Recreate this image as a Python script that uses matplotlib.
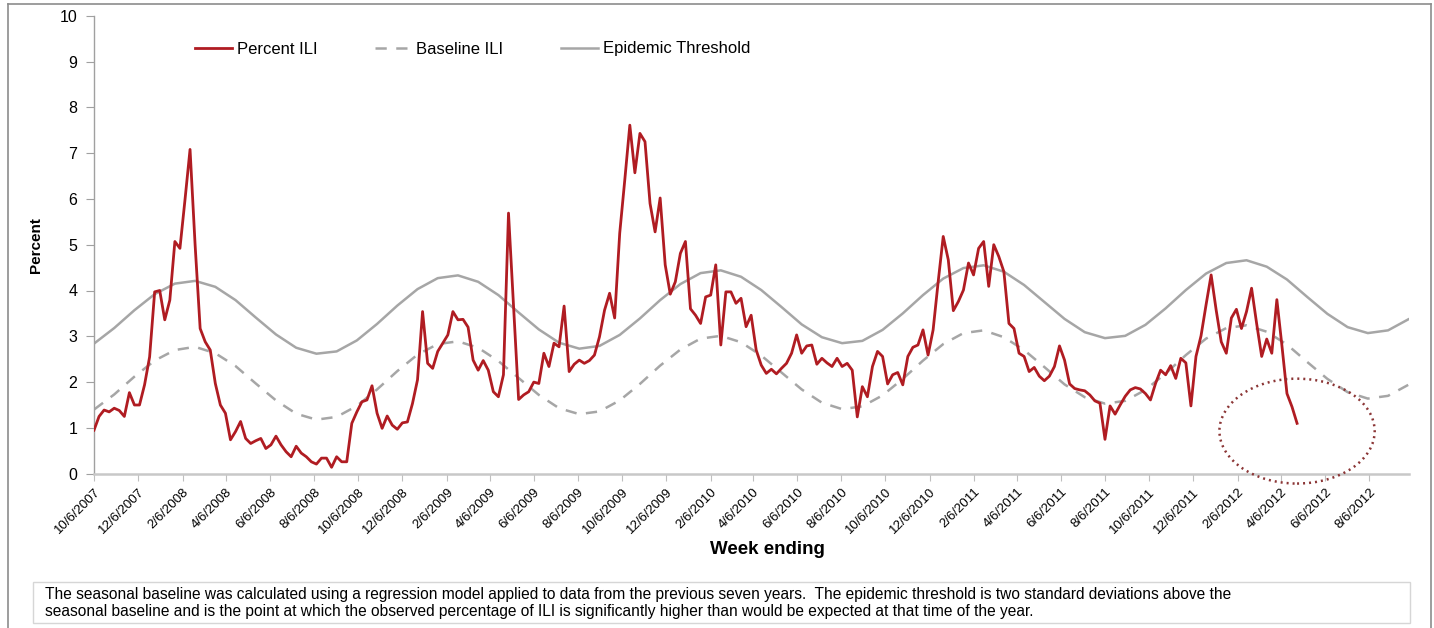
import datetime as dt
import matplotlib
matplotlib.use("Agg")
import matplotlib.pyplot as plt
import matplotlib.dates as mdates
from matplotlib.patches import Ellipse, Rectangle
from matplotlib.lines import Line2D

plt.rcParams['font.family'] = ['Liberation Sans', 'DejaVu Sans']

# ---------------- data ----------------
first_week = dt.date(2007, 10, 6)   # week ending (Saturday)

pct_ili_0708 = [0.95, 1.25, 1.39, 1.35, 1.43, 1.38, 1.25, 1.77, 1.50, 1.50, 1.94, 2.55, 3.97,
                4.00, 3.36, 3.79, 5.07, 4.92, 5.98, 7.08, 5.00, 3.17, 2.88, 2.70, 1.97, 1.50,
                1.32, 0.74, 0.92, 1.14, 0.77, 0.66, 0.72, 0.77, 0.55, 0.63, 0.82, 0.63, 0.48,
                0.37, 0.60, 0.45, 0.37, 0.26, 0.21, 0.34, 0.34, 0.14, 0.37, 0.26, 0.26, 1.10]
pct_ili_0809 = [1.35, 1.57, 1.61, 1.92, 1.32, 0.99, 1.26, 1.06, 0.97, 1.11, 1.13, 1.53, 2.05,
                3.54, 2.41, 2.30, 2.67, 2.85, 3.03, 3.54, 3.36, 3.37, 3.20, 2.48, 2.26, 2.47,
                2.26, 1.79, 1.68, 2.16, 5.69, 3.65, 1.62, 1.72, 1.79, 2.00, 1.97, 2.63, 2.34,
                2.85, 2.77, 3.66, 2.23, 2.39, 2.48, 2.41, 2.47, 2.59, 2.99, 3.57, 3.94, 3.40]
pct_ili_0910 = [5.25, 6.41, 7.61, 6.57, 7.43, 7.25, 5.90, 5.28, 6.02, 4.56, 3.92, 4.19, 4.81,
                5.07, 3.60, 3.46, 3.28, 3.86, 3.90, 4.56, 2.81, 3.97, 3.97, 3.72, 3.83, 3.21,
                3.46, 2.70, 2.37, 2.19, 2.28, 2.18, 2.30, 2.41, 2.63, 3.03, 2.63, 2.79, 2.81,
                2.39, 2.52, 2.42, 2.34, 2.52, 2.34, 2.41, 2.26, 1.24, 1.90, 1.68, 2.34, 2.67]
pct_ili_1011 = [2.56, 1.96, 2.16, 2.21, 1.94, 2.56, 2.76, 2.81, 3.14, 2.59, 3.14, 4.19, 5.18,
                4.67, 3.56, 3.76, 4.01, 4.60, 4.34, 4.92, 5.07, 4.09, 5.00, 4.74, 4.41, 3.28,
                3.17, 2.63, 2.56, 2.23, 2.32, 2.13, 2.03, 2.13, 2.34, 2.79, 2.48, 1.96, 1.86,
                1.83, 1.81, 1.72, 1.59, 1.54, 0.75, 1.48, 1.30, 1.50, 1.69, 1.83, 1.88, 1.85]
pct_ili_1112 = [1.75, 1.61, 1.97, 2.26, 2.16, 2.36, 2.08, 2.52, 2.42, 1.48, 2.56, 3.01, 3.69,
                4.34, 3.57, 2.88, 2.63, 3.40, 3.59, 3.17, 3.54, 4.05, 3.28, 2.56, 2.94, 2.63,
                3.80, 2.80, 1.75, 1.46, 1.10]

# seasonal curves read every 4 weeks from 10/6/2007 to 9/29/2012
baseline_ili = [1.40, 1.73, 2.12, 2.47, 2.70, 2.77, 2.63, 2.35, 1.97, 1.60, 1.31, 1.18, 1.24,
                1.48, 1.84, 2.24, 2.60, 2.83, 2.89, 2.75, 2.46, 2.09, 1.72, 1.43, 1.30, 1.36,
                1.60, 1.96, 2.36, 2.71, 2.95, 3.01, 2.87, 2.58, 2.21, 1.84, 1.55, 1.41, 1.47,
                1.71, 2.07, 2.47, 2.83, 3.07, 3.13, 2.98, 2.70, 2.33, 1.95, 1.67, 1.53, 1.59,
                1.83, 2.19, 2.59, 2.95, 3.18, 3.24, 3.10, 2.82, 2.44, 2.07, 1.78, 1.64, 1.70,
                1.94]
epidemic_threshold = [2.84, 3.18, 3.57, 3.92, 4.15, 4.21, 4.08, 3.79, 3.41, 3.04, 2.75, 2.62, 2.67,
                      2.91, 3.27, 3.67, 4.03, 4.27, 4.33, 4.19, 3.90, 3.52, 3.15, 2.86, 2.73, 2.79,
                      3.03, 3.39, 3.79, 4.14, 4.38, 4.44, 4.30, 4.01, 3.64, 3.26, 2.98, 2.85, 2.90,
                      3.14, 3.50, 3.90, 4.26, 4.49, 4.55, 4.41, 4.12, 3.75, 3.38, 3.09, 2.96, 3.01,
                      3.25, 3.61, 4.01, 4.37, 4.60, 4.66, 4.52, 4.24, 3.86, 3.49, 3.20, 3.07, 3.13,
                      3.37]

tick_dates = [dt.date(2007, 10, 6), dt.date(2007, 12, 6), dt.date(2008, 2, 6), dt.date(2008, 4, 6),
              dt.date(2008, 6, 6), dt.date(2008, 8, 6), dt.date(2008, 10, 6), dt.date(2008, 12, 6),
              dt.date(2009, 2, 6), dt.date(2009, 4, 6), dt.date(2009, 6, 6), dt.date(2009, 8, 6),
              dt.date(2009, 10, 6), dt.date(2009, 12, 6), dt.date(2010, 2, 6), dt.date(2010, 4, 6),
              dt.date(2010, 6, 6), dt.date(2010, 8, 6), dt.date(2010, 10, 6), dt.date(2010, 12, 6),
              dt.date(2011, 2, 6), dt.date(2011, 4, 6), dt.date(2011, 6, 6), dt.date(2011, 8, 6),
              dt.date(2011, 10, 6), dt.date(2011, 12, 6), dt.date(2012, 2, 6), dt.date(2012, 4, 6),
              dt.date(2012, 6, 6), dt.date(2012, 8, 6)]
tick_labels = [f"{d.month}/{d.day}/{d.year}" for d in tick_dates]

footnote = ("The seasonal baseline was calculated using a regression model applied to data from the previous seven years.  "
            "The epidemic threshold is two standard deviations above the\n"
            "seasonal baseline and is the point at which the observed percentage of ILI is significantly higher "
            "than would be expected at that time of the year.")

pct_ili = pct_ili_0708 + pct_ili_0809 + pct_ili_0910 + pct_ili_1011 + pct_ili_1112
ili_dates = [first_week + dt.timedelta(days=7 * i) for i in range(len(pct_ili))]
curve_dates = [first_week + dt.timedelta(days=28 * i) for i in range(len(baseline_ili))]

# ---------------- figure ----------------
W, H = 1434, 628
fig = plt.figure(figsize=(W / 100, H / 100), dpi=100)
ax = fig.add_axes([94 / W, 1 - 473.7 / H, (1409 - 94) / W, (473.7 - 15.7) / H])

red = '#B01C22'
gray = '#A6A6A6'
ax.plot(curve_dates, epidemic_threshold, color=gray, lw=1.8, label='Epidemic Threshold', zorder=2)
ax.plot(curve_dates, baseline_ili, color=gray, lw=1.8, dashes=(4.5, 3.8), label='Baseline ILI', zorder=2)
ax.plot(ili_dates, pct_ili, color=red, lw=2.0, label='Percent ILI', zorder=3)

ax.set_xlim(mdates.date2num(first_week), mdates.date2num(dt.date(2012, 9, 30)))
ax.set_ylim(0, 10)
ax.set_yticks(range(0, 11))
ax.set_xticks([mdates.date2num(d) for d in tick_dates])
ax.set_xticklabels(tick_labels, rotation=45, ha='right', va='top', rotation_mode='anchor')
ax.tick_params(axis='x', length=5, color='#BFBFBF', labelsize=9.5, pad=4)
ax.tick_params(axis='y', length=6, color='#A0A0A0', labelsize=11.5, pad=6)

for s in ['top', 'right']:
    ax.spines[s].set_visible(False)
ax.spines['left'].set_color('#A0A0A0')
ax.spines['left'].set_linewidth(1.0)
ax.spines['bottom'].set_color('#C8C8C8')
ax.spines['bottom'].set_linewidth(1.8)

ax.set_ylabel('Percent', fontsize=11, fontweight='bold', labelpad=12)
fig.text(767 / W, 1 - 550 / H, 'Week ending', ha='center', va='center', fontsize=13.5, fontweight='bold')

# dotted ellipse highlighting the latest weeks
ell_center = mdates.date2num(dt.date(2012, 4, 28))
ax.add_patch(Ellipse((ell_center, 0.93), width=215, height=2.29, fill=False,
                     edgecolor='#8B3535', lw=1.8, ls=(0, (0.8, 1.6)), clip_on=False, zorder=4))

handles, labels = ax.get_legend_handles_labels()
order = [2, 1, 0]
leg = ax.legend([handles[i] for i in order], [labels[i] for i in order], loc='center left',
                bbox_to_anchor=((195 - 94) / (1409 - 94), 1 - (49 - 15.7) / 458), ncol=3,
                frameon=False, fontsize=12, handlelength=2.2, handletextpad=0.3,
                columnspacing=3.45, borderpad=0, borderaxespad=0)

# footnote box
fig.patches.append(Rectangle((33 / W, 1 - 623 / H), (1410 - 33) / W, (623 - 582) / H,
                             transform=fig.transFigure, fill=False, edgecolor='#D6D6D6', lw=1.0))
fig.text(45 / W, 1 - 603 / H, footnote, ha='left', va='center', fontsize=11.2, linespacing=1.2)

# outer border (left, top, right)
bc = '#8C8C8C'
fig.add_artist(Line2D([7.5 / W, 7.5 / W], [0, 1 - 4 / H], transform=fig.transFigure, color=bc, lw=1.2))
fig.add_artist(Line2D([7.5 / W, 1431 / W], [1 - 4 / H, 1 - 4 / H], transform=fig.transFigure, color=bc, lw=1.2))
fig.add_artist(Line2D([1431 / W, 1431 / W], [0, 1 - 4 / H], transform=fig.transFigure, color=bc, lw=1.2))

fig.savefig('out.png', dpi=100)
